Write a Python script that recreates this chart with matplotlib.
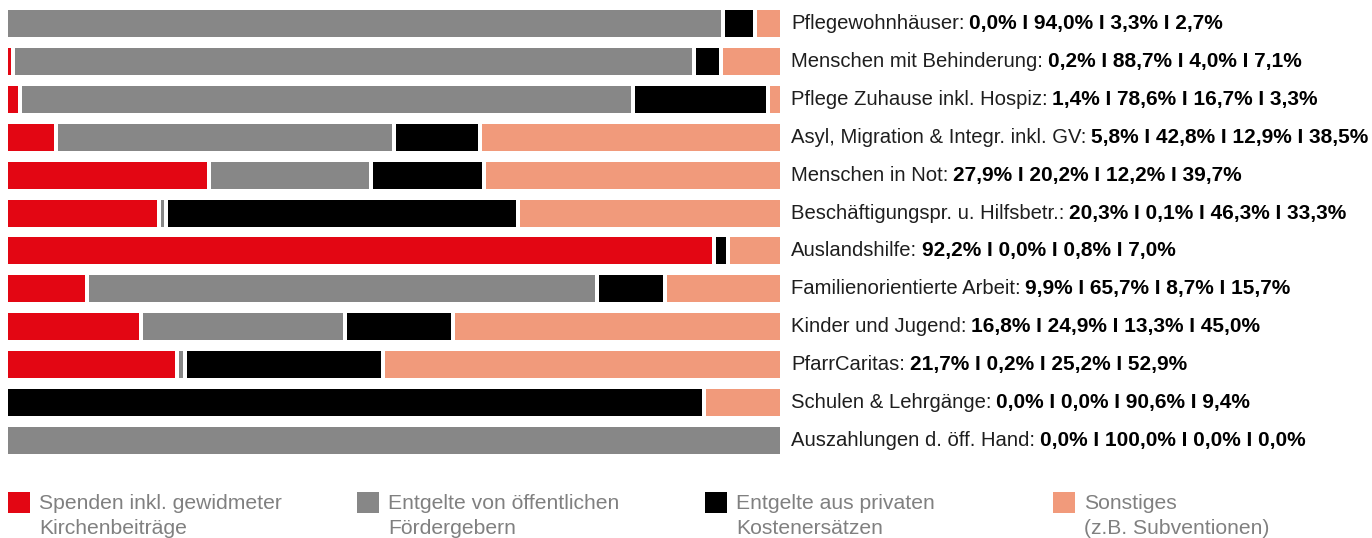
import numpy as np
import matplotlib.pyplot as plt
from matplotlib.transforms import blended_transform_factory

plt.rcParams['font.family'] = ['Liberation Sans', 'DejaVu Sans']

# Bereiche
bereiche = [
    'Pflegewohnhäuser', 'Menschen mit Behinderung', 'Pflege Zuhause inkl. Hospiz',
    'Asyl, Migration & Integr. inkl. GV', 'Menschen in Not',
    'Beschäftigungspr. u. Hilfsbetr.', 'Auslandshilfe', 'Familienorientierte Arbeit',
    'Kinder und Jugend', 'PfarrCaritas', 'Schulen & Lehrgänge',
    'Auszahlungen d. öff. Hand',
]

# Werte laut Beschriftung (%)
spenden = [0.0, 0.2, 1.4, 5.8, 27.9, 20.3, 92.2, 9.9, 16.8, 21.7, 0.0, 0.0]
oeffentlich = [94.0, 88.7, 78.6, 42.8, 20.2, 0.1, 0.0, 65.7, 24.9, 0.2, 0.0, 100.0]
privat = [3.3, 4.0, 16.7, 12.9, 12.2, 46.3, 0.8, 8.7, 13.3, 25.2, 90.6, 0.0]
sonstiges = [2.7, 7.1, 3.3, 38.5, 39.7, 33.3, 7.0, 15.7, 45.0, 52.9, 9.4, 0.0]

# Balkenlängen wie im Original gezeichnet (%)
bar_spenden = [0.0, 0.7, 1.6, 6.2, 26.0, 19.6, 91.4, 10.2, 17.2, 21.9, 0.0, 0.0]
bar_oeffentlich = [92.6, 88.2, 79.4, 43.8, 21.0, 0.9, 0.0, 66.1, 26.4, 1.0, 0.0, 100.0]
bar_privat = [4.2, 3.5, 17.5, 11.2, 14.7, 45.6, 1.8, 8.8, 14.0, 25.7, 90.2, 0.0]
bar_sonstiges = [3.2, 7.6, 1.5, 38.8, 38.3, 33.9, 6.8, 14.9, 42.4, 51.4, 9.8, 0.0]

legend_labels = ['Spenden inkl. gewidmeter\nKirchenbeiträge',
                 'Entgelte von öffentlichen\nFördergebern',
                 'Entgelte aus privaten\nKostenersätzen',
                 'Sonstiges\n(z.B. Subventionen)']
colors = ['#e30613', '#878787', '#000000', '#f19a7b']

W, H = 1372, 538
fig = plt.figure(figsize=(W / 100, H / 100), dpi=100)
ax = fig.add_axes([8 / W, (H - 459) / H, 772 / W, 454 / H])
ax.set_xlim(0, 100)
ax.set_ylim(11.5, -0.5)
ax.axis('off')

werte = np.array([spenden, oeffentlich, privat, sonstiges]).T
balken = np.array([bar_spenden, bar_oeffentlich, bar_privat, bar_sonstiges]).T
gap = 4 / 772 * 100

for i, row in enumerate(balken):
    nz = [k for k in range(4) if row[k] > 0]
    cum = 0.0
    for k in range(4):
        v = row[k]
        if v <= 0:
            continue
        left = cum + (gap / 2 if k != nz[0] else 0)
        right = cum + v - (gap / 2 if k != nz[-1] else 0)
        ax.barh(i, right - left, left=left, height=0.714, color=colors[k], linewidth=0)
        cum += v

# Beschriftungen rechts
trans = blended_transform_factory(ax.transAxes, ax.transData)
for i, name in enumerate(bereiche):
    t = ax.text((791 - 8) / 772, i, name + ':', transform=trans, va='center',
                fontsize=14.6, color='#1e1e1e')
    txt = ' I '.join(f'{v:.1f}%'.replace('.', ',') for v in werte[i])
    ax.annotate(txt, xy=(1, 0), xycoords=t, xytext=(3.5, 0), textcoords='offset points',
                va='bottom', ha='left', fontsize=15.0, fontweight='bold', color='#000000')

# Legende
xs = [8, 357, 705, 1053]
for x, c, lab in zip(xs, colors, legend_labels):
    fig.patches.append(plt.Rectangle((x / W, (H - 513) / H), 22 / W, 21 / H,
                                     transform=fig.transFigure, color=c, linewidth=0))
    fig.text((x + 31) / W, (H - 494) / H, lab, va='top', ha='left', fontsize=15.2,
             color='#808080', linespacing=1.42)

fig.savefig('out.png', dpi=100)
